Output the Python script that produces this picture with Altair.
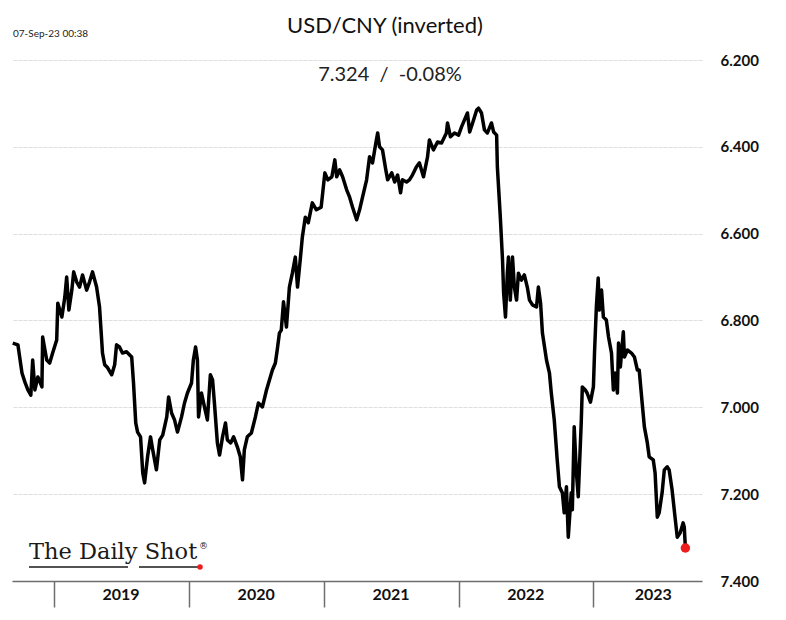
import altair as alt
import pandas as pd

# ---------------- data ----------------
dates = [
    "2018-09-12", "2018-09-26", "2018-10-07", "2018-10-15", "2018-10-23", "2018-10-31",
    "2018-11-05", "2018-11-11", "2018-11-19", "2018-11-30", "2018-12-02", "2018-12-13",
    "2018-12-21", "2018-12-29", "2019-01-09", "2019-01-12", "2019-01-23", "2019-01-31",
    "2019-02-05", "2019-02-11", "2019-02-19", "2019-02-24", "2019-03-04", "2019-03-12",
    "2019-03-20", "2019-03-31", "2019-04-08", "2019-04-16", "2019-04-27", "2019-05-05",
    "2019-05-13", "2019-05-19", "2019-05-27", "2019-06-07", "2019-06-15", "2019-06-20",
    "2019-06-28", "2019-07-06", "2019-07-17", "2019-07-31", "2019-08-05", "2019-08-11",
    "2019-08-16", "2019-08-24", "2019-08-30", "2019-09-04", "2019-09-12", "2019-09-20",
    "2019-09-26", "2019-10-06", "2019-10-15", "2019-10-23", "2019-11-03", "2019-11-08",
    "2019-11-16", "2019-11-24", "2019-12-02", "2019-12-13", "2019-12-21", "2019-12-29",
    "2020-01-09", "2020-01-14", "2020-01-20", "2020-01-25", "2020-01-28", "2020-02-05",
    "2020-02-13", "2020-02-21", "2020-02-29", "2020-03-06", "2020-03-11", "2020-03-19",
    "2020-03-25", "2020-04-02", "2020-04-10", "2020-04-15", "2020-04-24", "2020-05-02",
    "2020-05-12", "2020-05-20", "2020-05-26", "2020-05-31", "2020-06-08", "2020-06-19",
    "2020-06-30", "2020-07-08", "2020-07-19", "2020-07-30", "2020-08-07", "2020-08-15",
    "2020-08-23", "2020-08-28", "2020-09-03", "2020-09-08", "2020-09-14", "2020-09-22",
    "2020-09-30", "2020-10-08", "2020-10-16", "2020-10-22", "2020-10-30", "2020-11-04",
    "2020-11-12", "2020-11-20", "2020-12-01", "2020-12-12", "2020-12-25", "2021-01-04",
    "2021-01-12", "2021-01-23", "2021-01-31", "2021-02-05", "2021-02-13", "2021-02-21",
    "2021-03-04", "2021-03-12", "2021-03-20", "2021-03-31", "2021-04-08", "2021-04-16",
    "2021-04-27", "2021-05-05", "2021-05-13", "2021-05-22", "2021-05-27", "2021-06-01",
    "2021-06-09", "2021-06-18", "2021-06-23", "2021-07-04", "2021-07-12", "2021-07-20",
    "2021-07-28", "2021-08-02", "2021-08-13", "2021-08-21", "2021-08-29", "2021-09-09",
    "2021-09-17", "2021-09-28", "2021-10-09", "2021-10-14", "2021-10-25", "2021-11-05",
    "2021-11-16", "2021-11-29", "2021-12-02", "2021-12-10", "2021-12-21", "2022-01-01",
    "2022-01-09", "2022-01-17", "2022-01-25", "2022-01-31", "2022-02-08", "2022-02-19",
    "2022-02-24", "2022-03-04", "2022-03-12", "2022-03-20", "2022-03-31", "2022-04-06",
    "2022-04-14", "2022-04-16", "2022-04-24", "2022-04-30", "2022-05-03", "2022-05-08",
    "2022-05-13", "2022-05-16", "2022-05-21", "2022-05-27", "2022-06-01", "2022-06-07",
    "2022-06-12", "2022-06-20", "2022-06-28", "2022-07-06", "2022-07-12", "2022-07-20",
    "2022-07-31", "2022-08-05", "2022-08-11", "2022-08-16", "2022-08-27", "2022-09-04",
    "2022-09-09", "2022-09-17", "2022-09-25", "2022-10-01", "2022-10-09", "2022-10-14",
    "2022-10-20", "2022-10-25", "2022-11-02", "2022-11-05", "2022-11-10", "2022-11-16",
    "2022-11-21", "2022-11-29", "2022-12-02", "2022-12-10", "2022-12-15", "2022-12-24",
    "2023-01-01", "2023-01-04", "2023-01-09", "2023-01-14", "2023-01-17", "2023-01-23",
    "2023-01-28", "2023-02-05", "2023-02-11", "2023-02-19", "2023-02-24", "2023-03-01",
    "2023-03-07", "2023-03-10", "2023-03-15", "2023-03-23", "2023-03-26", "2023-04-03",
    "2023-04-14", "2023-04-22", "2023-04-30", "2023-05-05", "2023-05-13", "2023-05-19",
    "2023-05-27", "2023-06-01", "2023-06-12", "2023-06-17", "2023-06-23", "2023-06-28",
    "2023-07-06", "2023-07-12", "2023-07-20", "2023-07-25", "2023-08-02", "2023-08-10",
    "2023-08-16", "2023-08-24", "2023-09-01", "2023-09-04", "2023-09-07",
]
values = [
    6.852, 6.856, 6.921, 6.942, 6.960, 6.972,
    6.891, 6.960, 6.930, 6.953, 6.838, 6.891,
    6.898, 6.875, 6.845, 6.760, 6.792, 6.746,
    6.700, 6.776, 6.730, 6.688, 6.711, 6.723,
    6.695, 6.730, 6.711, 6.688, 6.723, 6.769,
    6.875, 6.902, 6.909, 6.925, 6.902, 6.856,
    6.861, 6.875, 6.872, 6.884, 6.944, 7.036,
    7.057, 7.068, 7.151, 7.174, 7.114, 7.068,
    7.098, 7.144, 7.075, 7.064, 7.022, 6.976,
    7.013, 7.029, 7.057, 7.022, 6.990, 6.967,
    6.944, 6.891, 6.861, 6.891, 7.022, 6.967,
    6.999, 7.029, 6.925, 6.937, 6.990, 7.082,
    7.110, 7.068, 7.036, 7.075, 7.082, 7.068,
    7.091, 7.114, 7.167, 7.098, 7.068, 7.059,
    7.022, 6.990, 6.999, 6.960, 6.937, 6.914,
    6.898, 6.868, 6.829, 6.822, 6.757, 6.815,
    6.723, 6.691, 6.654, 6.723, 6.654, 6.608,
    6.562, 6.575, 6.529, 6.545, 6.539, 6.460,
    6.476, 6.469, 6.430, 6.469, 6.453, 6.469,
    6.499, 6.516, 6.539, 6.568, 6.545, 6.516,
    6.476, 6.423, 6.437, 6.391, 6.368, 6.400,
    6.407, 6.453, 6.476, 6.460, 6.481, 6.465,
    6.506, 6.476, 6.481, 6.476, 6.465, 6.446,
    6.437, 6.469, 6.423, 6.384, 6.407, 6.389,
    6.391, 6.368, 6.345, 6.377, 6.368, 6.373,
    6.354, 6.338, 6.322, 6.366, 6.345, 6.315,
    6.311, 6.322, 6.361, 6.368, 6.345, 6.366,
    6.373, 6.446, 6.562, 6.661, 6.737, 6.792,
    6.691, 6.654, 6.753, 6.654, 6.723, 6.753,
    6.691, 6.707, 6.695, 6.723, 6.753, 6.764,
    6.769, 6.723, 6.760, 6.829, 6.891, 6.921,
    6.967, 7.029, 7.121, 7.183, 7.197, 7.243,
    7.183, 7.299, 7.197, 7.236, 7.045, 7.151,
    7.206, 7.036, 6.953, 6.960, 6.967, 6.988,
    6.953, 6.875, 6.769, 6.702, 6.776, 6.730,
    6.792, 6.799, 6.838, 6.875, 6.960, 6.921,
    6.967, 6.852, 6.907, 6.826, 6.884, 6.868,
    6.875, 6.884, 6.914, 6.914, 6.990, 7.045,
    7.082, 7.114, 7.121, 7.151, 7.253, 7.243,
    7.197, 7.144, 7.137, 7.144, 7.190, 7.253,
    7.299, 7.289, 7.266, 7.276, 7.324,
]

year_ticks = [2019, 2020, 2021, 2022, 2023]
year_labels = ["2019", "2020", "2021", "2022", "2023"]
year_label_dates = ["2019-07-02", "2020-07-02", "2021-07-02", "2022-07-02", "2023-06-12"]
y_ticks = [6.2, 6.4, 6.6, 6.8, 7.0, 7.2, 7.4]

title_text = "USD/CNY (inverted)"
subtitle_text = "7.324\u00a0\u00a0/\u00a0\u00a0-0.08%"
stamp_text = "07-Sep-23 00:38"
logo_text = "The Daily Shot"
logo_mark = "®"

# ---------------- chart ----------------
df = pd.DataFrame({"date": pd.to_datetime(dates), "value": values})
df_last = df.tail(1)
df_years = pd.DataFrame({"date": pd.to_datetime(year_label_dates), "label": year_labels})

x_enc = alt.X(
    "date:T",
    scale=alt.Scale(domain=[alt.DateTime(year=2018, month=9, date=10),
                            alt.DateTime(year=2023, month=10, date=22)]),
    axis=alt.Axis(
        values=[alt.DateTime(year=y, month=1, date=1) for y in year_ticks],
        labels=False, title=None, grid=False,
        domainColor="#6e6e6e", domainWidth=1.5,
        tickColor="#6e6e6e", tickWidth=1.5, tickSize=26,
    ),
)
y_enc = alt.Y(
    "value:Q",
    scale=alt.Scale(domain=[6.2, 7.4], reverse=True, nice=False, zero=False),
    axis=alt.Axis(
        orient="right", values=y_ticks, format=".3f", title=None,
        ticks=False, domain=False, labelPadding=18,
        labelFont="Lato", labelFontSize=15, labelFontWeight="bold", labelColor="#111111",
        gridColor="#dedede", gridDash=[4, 1], gridWidth=1,
    ),
)

line = alt.Chart(df).mark_line(color="black", strokeWidth=3.5, strokeJoin="round").encode(
    x=x_enc, y=y_enc
)
last_pt = alt.Chart(df_last).mark_circle(color="#ee1c1c", size=90, opacity=1).encode(
    x=x_enc, y=y_enc
)
year_text = alt.Chart(df_years).mark_text(
    font="Lato", fontSize=16, fontWeight="bold", color="#111111", baseline="middle"
).encode(x=x_enc, y=alt.value(535), text="label:N")


def note(txt, x, y, **kw):
    return alt.Chart(pd.DataFrame({"t": [txt]})).mark_text(**kw).encode(
        x=alt.value(x), y=alt.value(y), text="t:N"
    )


one = pd.DataFrame({"k": [0]})

title = note(title_text, 373, -27, font="Lato", fontSize=22, color="#111111",
             align="center", baseline="alphabetic")
subtitle = note(subtitle_text, 378, 21, font="Lato", fontSize=20, color="#222222",
                align="center", baseline="alphabetic")
stamp = note(stamp_text, 1, -23, font="Lato", fontSize=10, color="#222222",
             align="left", baseline="alphabetic")
logo = note(logo_text, 17, 499, font="DejaVu Serif", fontSize=22.5, color="#1a1a1a",
            align="left", baseline="alphabetic")
logo_r = note(logo_mark, 187, 486, font="DejaVu Serif", fontSize=9, color="#1a1a1a",
              align="left", baseline="middle")
ul1 = alt.Chart(one).mark_rule(color="#1a1a1a", strokeWidth=1.5).encode(
    x=alt.value(17), x2=alt.value(116), y=alt.value(507))
ul2 = alt.Chart(one).mark_rule(color="#1a1a1a", strokeWidth=1.5).encode(
    x=alt.value(127), x2=alt.value(186), y=alt.value(507))
logo_dot = alt.Chart(one).mark_circle(color="#ee1c1c", size=30, opacity=1).encode(
    x=alt.value(188), y=alt.value(507))

chart = alt.layer(
    line, last_pt, year_text, title, subtitle, stamp, logo, logo_r, ul1, ul2, logo_dot
).properties(
    width=690, height=521,
    padding={"left": 12, "top": 60, "right": 84, "bottom": 39},
    autosize=alt.AutoSizeParams(type="none"),
    background="white",
).configure_view(stroke=None)

chart.save("out.html", embed_options={"renderer": "svg", "actions": False})
